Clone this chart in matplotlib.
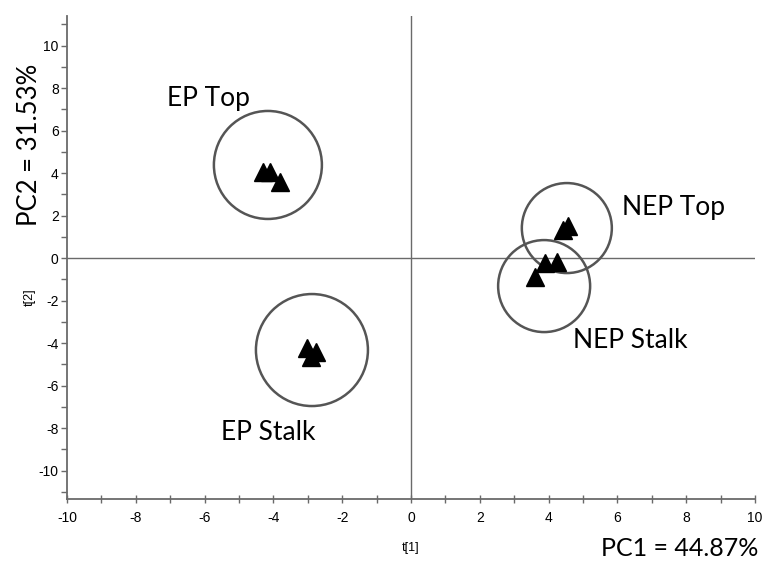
import matplotlib
matplotlib.use("Agg")
import matplotlib.pyplot as plt
from matplotlib.patches import Ellipse
import numpy as np

# Scores (t[1], t[2]) per group
groups = ["EP Top", "EP Stalk", "NEP Top", "NEP Stalk"]
t1_ep_top = [-4.30, -4.10, -3.81]
t2_ep_top = [4.05, 4.05, 3.58]
t1_ep_stalk = [-3.02, -2.76, -2.91]
t2_ep_stalk = [-4.24, -4.42, -4.66]
t1_nep_top = [4.42, 4.56]
t2_nep_top = [1.32, 1.51]
t1_nep_stalk = [3.90, 4.24, 3.60]
t2_nep_stalk = [-0.24, -0.19, -0.89]

# Group circles: centers (t1, t2)
circle_cx = [-4.16, -2.88, 4.53, 3.87]
circle_cy = [4.38, -4.33, 1.41, -1.32]
circle_r_px = [54, 56, 45, 46]

xticks = [-10, -8, -6, -4, -2, 0, 2, 4, 6, 8, 10]
yticks = [-10, -8, -6, -4, -2, 0, 2, 4, 6, 8, 10]

W, H, DPI = 763, 562, 100
fig = plt.figure(figsize=(W / DPI, H / DPI), dpi=DPI)
L, R, B, T = 67, 755, 499, 16
ax = fig.add_axes([L / W, 1 - B / H, (R - L) / W, (B - T) / H])
ax.set_xlim(-10, 10)
ax.set_ylim(-11.34, 11.39)

spine_c = "#6a6a6a"
for s in ["top", "right"]:
    ax.spines[s].set_visible(False)
for s in ["left", "bottom"]:
    ax.spines[s].set_color(spine_c)
    ax.spines[s].set_linewidth(1.3)

ax.axhline(0, color="#6a6a6a", lw=1.0, zorder=1)
ax.axvline(0, color="#6a6a6a", lw=1.0, zorder=1)

tick_font = {"family": ["Liberation Sans", "DejaVu Sans"], "size": 10}
ax.set_xticks(xticks)
ax.set_yticks(yticks)
ax.set_xticks(np.arange(-10, 11, 1), minor=True)
ax.set_yticks(np.arange(-11, 12, 1), minor=True)
ax.set_xticklabels([str(v) for v in xticks], **tick_font)
ax.set_yticklabels([str(v) for v in yticks], **tick_font)
ax.tick_params(axis="both", which="both", direction="inout", length=6,
               width=1.0, color=spine_c, pad=6)
ax.tick_params(axis="y", which="both", direction="out", length=4, pad=2)

# ellipses = circles in pixel space
xs_px = (R - L) / 20.0
ys_px = (B - T) / (11.39 + 11.34)
for cx, cy, r in zip(circle_cx, circle_cy, circle_r_px):
    e = Ellipse((cx, cy), 2 * r / xs_px, 2 * r / ys_px, fill=False,
                edgecolor="#555555", lw=1.8, zorder=2)
    ax.add_patch(e)

for xs, ys in [(t1_ep_top, t2_ep_top), (t1_ep_stalk, t2_ep_stalk),
               (t1_nep_top, t2_nep_top), (t1_nep_stalk, t2_nep_stalk)]:
    ax.plot(xs, ys, linestyle="none", marker="^", ms=12.5, color="black",
            zorder=3)

lab_font = ["Lato", "DejaVu Sans"]
ax.text(-5.9, 7.53, "EP Top", fontsize=19, family=lab_font, ha="center", va="center")
ax.text(-4.16, -8.19, "EP Stalk", fontsize=19, family=lab_font, ha="center", va="center")
ax.text(7.62, 2.4, "NEP Top", fontsize=19, family=lab_font, ha="center", va="center")
ax.text(6.37, -3.86, "NEP Stalk", fontsize=19, family=lab_font, ha="center", va="center")

fig.text(30 / W, 1 - 145 / H, "PC2 = 31.53%", rotation=90, fontsize=18.5,
         family=lab_font, ha="center", va="center")
fig.text(30 / W, 1 - 297 / H, "t[2]", rotation=90, fontsize=9,
         family=["Liberation Sans"], ha="center", va="center")
fig.text(411 / W, 1 - 548 / H, "t[1]", fontsize=9,
         family=["Liberation Sans"], ha="center", va="center")
fig.text(680 / W, 1 - 548 / H, "PC1 = 44.87%", fontsize=18,
         family=lab_font, ha="center", va="center")

fig.savefig("out.png", dpi=DPI)
